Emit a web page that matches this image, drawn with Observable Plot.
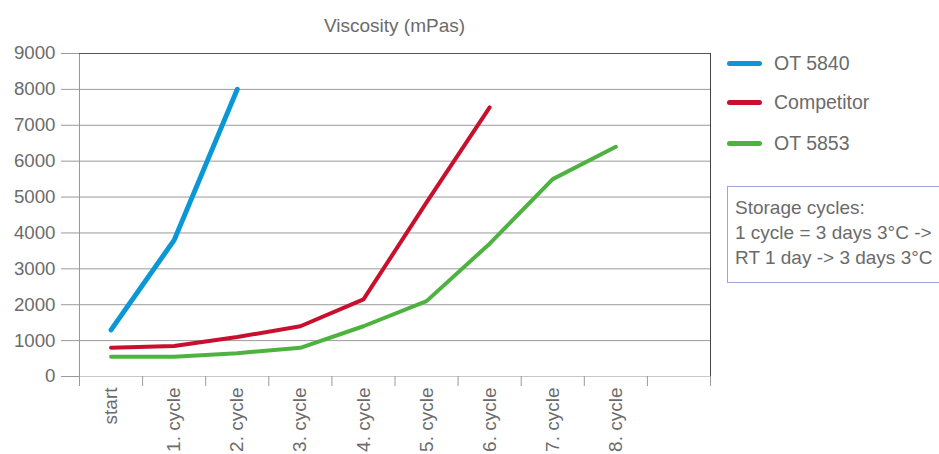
<!DOCTYPE html>
<html><head><meta charset="utf-8">
<script src="https://cdn.jsdelivr.net/npm/d3@7"></script>
<script src="https://cdn.jsdelivr.net/npm/@observablehq/plot@0.6"></script>
<style>
body{margin:0;background:#fff;}
#wrap{position:relative;width:939px;height:454px;overflow:hidden;font-family:"Liberation Sans",Arial,sans-serif;color:#6b6b6b;}
#title{position:absolute;left:79px;width:631px;top:15px;text-align:center;font-size:19px;}
.leg{position:absolute;left:727px;font-size:19.5px;height:24px;line-height:24px;}
.leg span.sw{position:absolute;left:0;top:10px;width:35px;height:5px;border-radius:3px;}
.leg span.tx{position:absolute;left:47px;top:0;white-space:nowrap;}
#box{position:absolute;left:727px;top:186px;width:240px;height:97px;border:1px solid #9aa6d9;box-sizing:border-box;padding:8px 0 0 7px;font-size:19px;line-height:25px;white-space:nowrap;}
</style></head><body><div id="wrap"></div>
<script>
const categories = ["start","1. cycle","2. cycle","3. cycle","4. cycle","5. cycle","6. cycle","7. cycle","8. cycle"];
const seriesNames = ["OT 5840","Competitor","OT 5853"];
const seriesColors = ["#0a97d6","#c8102e","#4db23f"];
const ot5840 = [1300, 3800, 8000];
const competitor = [800, 850, 1100, 1400, 2150, 4850, 7500];
const ot5853 = [550, 550, 650, 800, 1400, 2100, 3700, 5500, 6400];
const yTicks = [0,1000,2000,3000,4000,5000,6000,7000,8000,9000];
const titleText = "Viscosity (mPas)";
const noteLines = ["Storage cycles:", "1 cycle = 3 days 3°C ->", "RT 1 day -> 3 days 3°C"];

const seriesValues = [ot5840, competitor, ot5853];
const rows = seriesValues.flatMap((vals, s) => vals.map((v, i) => ({series: seriesNames[s], i, value: v})));
const nBands = categories.length + 1;
const boundaries = d3.range(nBands + 1).map(k => k - 0.5);

const chart = Plot.plot({
  width: 939, height: 454,
  marginLeft: 79, marginRight: 229, marginTop: 53, marginBottom: 78,
  x: {type: "linear", domain: [-0.5, nBands - 0.5]},
  y: {domain: [0, 9000]},
  color: {domain: seriesNames, range: seriesColors},
  style: {fontFamily: '"Liberation Sans", Arial, sans-serif', background: "transparent", color: "#6b6b6b"},
  marks: [
    Plot.gridY(yTicks.filter(d => d > 0 && d < 9000), {stroke: "#9a9a9a", strokeOpacity: 1}),
    Plot.ruleY([0], {stroke: "#c8c8c8"}),
    Plot.axisY(yTicks, {tickSize: 18, tickPadding: 6, tickFormat: d3.format("d"), stroke: "#9a9a9a", fill: "#6b6b6b", fontSize: 18.7, label: null}),
    Plot.axisX(boundaries, {tickSize: 10, tickFormat: () => "", stroke: "#9a9a9a", label: null}),
    Plot.axisX(d3.range(categories.length), {tickSize: 0, tickPadding: 11, tickRotate: -90, tickFormat: i => categories[i], fill: "#6b6b6b", fontSize: 19, label: null}),
    Plot.ruleX([-0.5], {y1: 0, y2: 9000, stroke: "#9a9a9a"}),
    Plot.ruleX([nBands - 0.5], {y1: 0, y2: 9000, stroke: "#444"}),
    Plot.ruleY([9000], {stroke: "#555"}),
    ...seriesNames.map((name, s) => Plot.line(rows.filter(r => r.series === name), {
      x: "i", y: "value", stroke: "series", strokeWidth: s === 0 ? 5 : 4
    }))
  ]
});
const wrap = document.getElementById("wrap");
chart.style.position = "absolute";
chart.style.left = "0"; chart.style.top = "0";
wrap.appendChild(chart);

const t = document.createElement("div"); t.id = "title"; t.textContent = titleText; wrap.appendChild(t);
const legTops = [51, 90, 131];
seriesNames.forEach((n, s) => {
  const d = document.createElement("div"); d.className = "leg"; d.style.top = legTops[s] + "px";
  d.innerHTML = `<span class="sw" style="background:${seriesColors[s]}"></span><span class="tx"></span>`;
  d.querySelector(".tx").textContent = n;
  wrap.appendChild(d);
});
const box = document.createElement("div"); box.id = "box";
box.innerHTML = noteLines.map(l => `<div></div>`).join("");
box.querySelectorAll("div").forEach((el, k) => el.textContent = noteLines[k]);
wrap.appendChild(box);
</script></body></html>
